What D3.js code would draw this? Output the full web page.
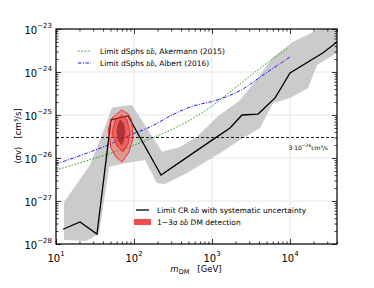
<!DOCTYPE html>
<html><head><meta charset="utf-8">
<script src="https://cdn.jsdelivr.net/npm/d3@7"></script>
<style>body{margin:0;background:#fff;} svg{display:block;font-family:"DejaVu Sans",sans-serif;}</style>
</head><body>
<svg id="c" width="374" height="288"></svg>
<script>
// ---- data ----
const lineMass  = [12.3, 20.3, 33.5, 50.7, 83.8, 222, 1000, 1702, 2425, 3890, 6430, 10000, 26500, 40000];
const lineSigma = [2.2e-28, 3.25e-28, 1.7e-28, 7.7e-26, 9.5e-26, 4.0e-27, 2.6e-26, 5.0e-26, 1.0e-25, 1.05e-25, 2.5e-25, 9.5e-25, 2.8e-24, 5.0e-24];

const bandUpperMass  = [12.7, 27.3, 42.5, 52.2, 94, 160, 228, 389, 643, 1160, 2285, 4120, 6050, 10900, 22200, 40000];
const bandUpperSigma = [9.5e-28, 6.9e-27, 5.3e-26, 1.5e-25, 1.7e-25, 3.8e-26, 1.4e-26, 1.8e-26, 3.1e-26, 9e-26, 2.2e-25, 8.5e-25, 2.2e-24, 5e-24, 9.5e-24, 1.1e-23];
const bandLowerMass  = [12.7, 24.3, 35.6, 47.8, 76.7, 138, 197, 250, 478, 1268, 2497, 4120, 6050, 10000, 17000, 22200, 40000];
const bandLowerSigma = [1.24e-28, 1.17e-28, 1.7e-28, 6.2e-27, 7.6e-27, 9e-27, 2.6e-27, 2.5e-27, 4.5e-27, 1.3e-26, 2.9e-26, 5e-26, 1.9e-25, 2.5e-25, 4.2e-25, 1.45e-24, 2.8e-24];

const akermannMass  = [10, 46.4, 160, 522, 1000, 1702, 4510, 9420];
const akermannSigma = [5.26e-27, 1.24e-26, 2.77e-26, 7.65e-26, 1.62e-25, 3.43e-25, 1.38e-24, 3.61e-24];
const albertMass  = [10, 27.3, 46.4, 88.9, 160, 290, 522, 1160, 2497, 4510, 10000];
const albertSigma = [7.25e-27, 1.38e-26, 2.0e-26, 3.43e-26, 5.26e-26, 9.47e-26, 1.53e-25, 2.23e-25, 4.02e-25, 8.5e-25, 2.23e-24];

const refSigma = 3e-26;

const c3Mass  = [69.5, 84.5, 93.5, 97.1, 86.3, 70.2, 58.7, 50.7, 46.4, 52.2];
const c3Sigma = [1.31e-25, 1.05e-25, 7.65e-26, 2.92e-26, 1.38e-26, 8.07e-27, 1.05e-26, 1.71e-26, 4.48e-26, 8.5e-26];
const c2Mass  = [69.2, 81.3, 88.9, 83.8, 72.2, 60.5, 52.2, 57.0];
const c2Sigma = [1.0e-25, 7.65e-26, 4.02e-26, 2.12e-26, 1.38e-26, 1.9e-26, 3.81e-26, 7.25e-26];
const c1Mass  = [67.1, 73.3, 76.7, 73.3, 69.2, 63.3, 60.5, 63.3];
const c1Sigma = [7.65e-26, 6.18e-26, 4.02e-26, 2.48e-26, 2.0e-26, 2.62e-26, 4.25e-26, 6.52e-26];

const xMajor = [10, 100, 1000, 10000];
const yMajor = [1e-28, 1e-27, 1e-26, 1e-25, 1e-24, 1e-23];

// ---- layout ----
const L = 56, R = 337, T = 29, B = 244;
const svg = d3.select("#c");
const x = d3.scaleLog().domain([10, 4e4]).range([L, R]);
const y = d3.scaleLog().domain([1e-28, 1e-23]).range([B, T]);

const xMinor = [];
xMajor.forEach(d => { for (let k = 2; k <= 9; k++) if (d * k <= 4e4) xMinor.push(d * k); });
const yMinor = [];
yMajor.slice(0, -1).forEach(d => { for (let k = 2; k <= 9; k++) yMinor.push(d * k); });

svg.append("defs").append("clipPath").attr("id", "clip")
  .append("rect").attr("x", L).attr("y", T).attr("width", R - L).attr("height", B - T);

const plot = svg.append("g").attr("clip-path", "url(#clip)");

// grid
plot.selectAll(".gx").data(xMajor).join("line")
  .attr("x1", d => x(d)).attr("x2", d => x(d)).attr("y1", T).attr("y2", B)
  .attr("stroke", "#e4e4e4").attr("stroke-width", 0.9);
plot.selectAll(".gy").data(yMajor).join("line")
  .attr("y1", d => y(d)).attr("y2", d => y(d)).attr("x1", L).attr("x2", R)
  .attr("stroke", "#e4e4e4").attr("stroke-width", 0.9);

// band
const upper = bandUpperMass.map((m, i) => [m, bandUpperSigma[i]]);
const lower = bandLowerMass.map((m, i) => [m, bandLowerSigma[i]]);
const poly = upper.concat(lower.slice().reverse());
const lin = d3.line().x(d => x(d[0])).y(d => y(d[1]));
plot.append("path").attr("d", lin.curve(d3.curveLinearClosed)(poly))
  .attr("fill", "#cbcbcb").attr("stroke", "none");

// reference line
plot.append("line").attr("x1", L).attr("x2", R).attr("y1", y(refSigma)).attr("y2", y(refSigma))
  .attr("stroke", "#000").attr("stroke-width", 0.9).attr("stroke-dasharray", "3,2");

// dSph limits
const smooth = d3.line().x(d => x(d[0])).y(d => y(d[1])).curve(d3.curveMonotoneX);
plot.append("path").attr("d", smooth(akermannMass.map((m, i) => [m, akermannSigma[i]])))
  .attr("fill", "none").attr("stroke", "#2ca02c").attr("stroke-width", 1).attr("stroke-dasharray", "1.6,1.6");
plot.append("path").attr("d", smooth(albertMass.map((m, i) => [m, albertSigma[i]])))
  .attr("fill", "none").attr("stroke", "#1515ff").attr("stroke-width", 1).attr("stroke-dasharray", "3.5,1.5,1,1.5");

// black limit
plot.append("path").attr("d", d3.line().x(d => x(d[0])).y(d => y(d[1]))(lineMass.map((m, i) => [m, lineSigma[i]])))
  .attr("fill", "none").attr("stroke", "#000").attr("stroke-width", 1.3).attr("stroke-linejoin", "miter");

// contours
const closed = d3.line().x(d => x(d[0])).y(d => y(d[1])).curve(d3.curveLinearClosed);
const contours = [
  {m: c3Mass, s: c3Sigma, fill: "rgba(255,70,60,0.40)", stroke: "#ff1a1a"},
  {m: c2Mass, s: c2Sigma, fill: "rgba(235,40,40,0.45)", stroke: "#ff1a1a"},
  {m: c1Mass, s: c1Sigma, fill: "rgba(140,20,30,0.60)", stroke: "#c02828"}
];
contours.forEach(c => {
  plot.append("path").attr("d", closed(c.m.map((m, i) => [m, c.s[i]])))
    .attr("fill", c.fill).attr("stroke", c.stroke).attr("stroke-width", 0.9);
});

// ---- axes ----
function drawAxis(axis, tr) {
  const g = svg.append("g").attr("transform", tr).call(axis);
  g.select(".domain").remove();
  g.selectAll("line").attr("stroke", "#000").attr("stroke-width", 0.8);
  g.selectAll("text").remove();
}
drawAxis(d3.axisBottom(x).tickValues(xMajor).tickSize(-5).tickSizeOuter(0), `translate(0,${B})`);
drawAxis(d3.axisBottom(x).tickValues(xMinor).tickSize(-2.5).tickSizeOuter(0), `translate(0,${B})`);
drawAxis(d3.axisTop(x).tickValues(xMajor).tickSize(-5).tickSizeOuter(0), `translate(0,${T})`);
drawAxis(d3.axisTop(x).tickValues(xMinor).tickSize(-2.5).tickSizeOuter(0), `translate(0,${T})`);
drawAxis(d3.axisLeft(y).tickValues(yMajor).tickSize(-5).tickSizeOuter(0), `translate(${L},0)`);
drawAxis(d3.axisLeft(y).tickValues(yMinor).tickSize(-2.5).tickSizeOuter(0), `translate(${L},0)`);
drawAxis(d3.axisRight(y).tickValues(yMajor).tickSize(-5).tickSizeOuter(0), `translate(${R},0)`);
drawAxis(d3.axisRight(y).tickValues(yMinor).tickSize(-2.5).tickSizeOuter(0), `translate(${R},0)`);

svg.append("rect").attr("x", L).attr("y", T).attr("width", R - L).attr("height", B - T)
  .attr("fill", "none").attr("stroke", "#000").attr("stroke-width", 1.2);

// tick labels
xMajor.forEach(v => {
  const t = svg.append("text").attr("x", x(v)).attr("y", 262).attr("text-anchor", "middle")
    .attr("font-size", 10).attr("fill", "#000");
  t.append("tspan").text("10");
  t.append("tspan").attr("dy", -6).attr("font-size", 7).text(Math.round(Math.log10(v)));
});
yMajor.forEach(v => {
  const t = svg.append("text").attr("x", 52).attr("y", y(v) + 5).attr("text-anchor", "end")
    .attr("font-size", 10).attr("fill", "#000");
  t.append("tspan").text("10");
  t.append("tspan").attr("dy", -6.5).attr("font-size", 7).text("\u2212" + Math.round(-Math.log10(v)));
});

// axis titles
const xt = svg.append("text").attr("x", 196).attr("y", 272).attr("text-anchor", "middle").attr("font-size", 8.5);
xt.append("tspan").attr("font-style", "italic").text("m");
xt.append("tspan").attr("font-size", 6.5).attr("dy", 2).text("DM");
xt.append("tspan").attr("dy", -2).text("\u00a0\u00a0\u00a0[GeV]");

const yt = svg.append("text").attr("transform", "translate(21,136) rotate(-90)").attr("text-anchor", "middle").attr("font-size", 8.5);
yt.append("tspan").text("\u27e8\u03c3v\u27e9\u00a0\u00a0\u00a0[cm\u00b3/s]");

// annotation
const an = svg.append("text").attr("x", 328).attr("y", 149.5).attr("text-anchor", "end").attr("font-size", 6);
an.append("tspan").text("3\u00b710");
an.append("tspan").attr("dy", -2.5).attr("font-size", 4.5).text("\u221226");
an.append("tspan").attr("dy", 2.5).text("cm\u00b3/s");

// legends
function bb(t) { t.append("tspan").attr("font-style", "italic").attr("font-size", 6.5).text("bb\u0304"); }
function legText(xp, yp, pre, post) {
  const t = svg.append("text").attr("x", xp).attr("y", yp).attr("font-size", 7.5).attr("fill", "#000");
  t.append("tspan").text(pre);
  bb(t);
  t.append("tspan").text(post);
}
svg.append("line").attr("x1", 78).attr("x2", 91).attr("y1", 51).attr("y2", 51)
  .attr("stroke", "#2ca02c").attr("stroke-width", 1).attr("stroke-dasharray", "1.6,1.6");
legText(100, 54, "Limit dSphs ", ", Akermann (2015)");
svg.append("line").attr("x1", 78).attr("x2", 91).attr("y1", 63).attr("y2", 63)
  .attr("stroke", "#1515ff").attr("stroke-width", 1).attr("stroke-dasharray", "3.5,1.5,1,1.5");
legText(100, 66, "Limit dSphs ", ", Albert (2016)");

svg.append("line").attr("x1", 136).attr("x2", 149).attr("y1", 210).attr("y2", 210)
  .attr("stroke", "#000").attr("stroke-width", 1.3);
legText(157, 213, "Limit CR ", " with systematic uncertainty");
svg.append("rect").attr("x", 134).attr("y", 219).attr("width", 17).attr("height", 6).attr("fill", "#f24b4b");
legText(157, 225, "1\u22123\u03c3 ", " DM detection");
</script>
</body></html>
